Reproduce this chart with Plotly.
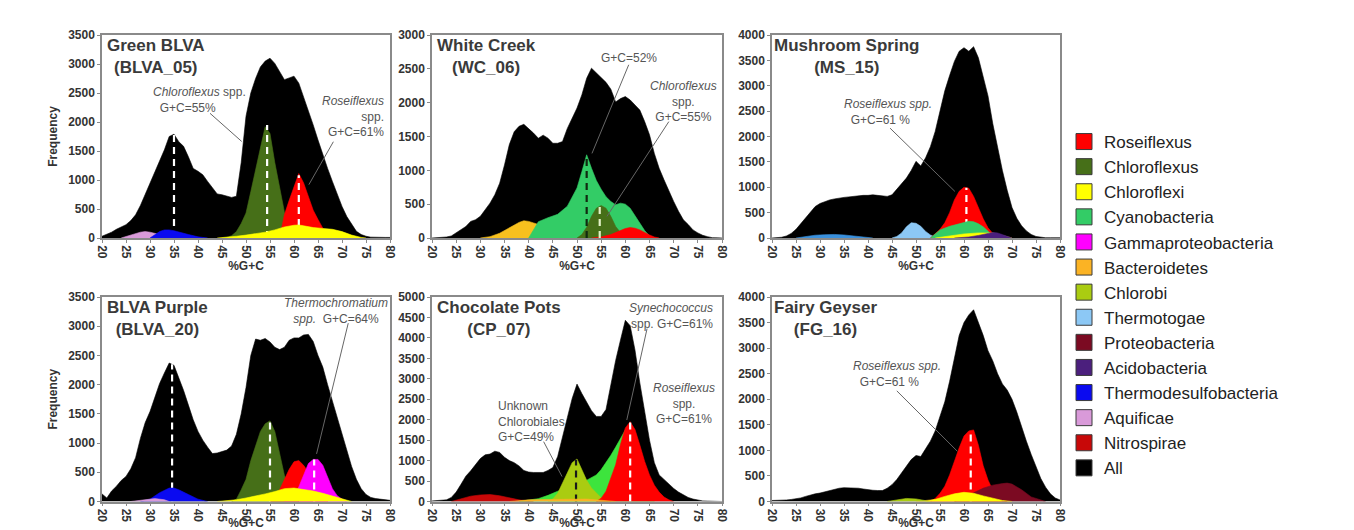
import plotly.graph_objects as go

# ---------------- data ----------------
X_ALL = list(range(20, 81))
X_TICKS = list(range(20, 81, 5))

LEGEND_TAXA = ["Roseiflexus", "Chloroflexus", "Chloroflexi", "Cyanobacteria",
               "Gammaproteobacteria", "Bacteroidetes", "Chlorobi", "Thermotogae",
               "Proteobacteria", "Acidobacteria", "Thermodesulfobacteria",
               "Aquificae", "Nitrospirae", "All"]

# Green BLVA (BLVA_05)
GB_ALL = [30, 60, 100, 150, 190, 230, 300, 400, 560, 750, 950, 1150, 1340, 1520, 1750,
          1790, 1660, 1580, 1400, 1200, 1150, 1090, 975, 860, 760, 745, 720, 700, 720,
          1300, 2100, 2500, 2750, 2950, 3050, 3100, 3010, 2870, 2730, 2760, 2790, 2670,
          2440, 2180, 1950, 1690, 1430, 1200, 975, 750, 545, 370, 230, 115, 60, 30, 15,
          10, 10, 10, 10]
GB_CFX_X = [45, 46, 47, 48, 49, 50, 51, 52, 53, 54, 55, 56, 57, 58, 59, 60, 61]
GB_CFX_Y = [0, 10, 40, 110, 250, 430, 800, 1200, 1550, 1920, 1800, 1300, 850, 450, 200, 70, 0]
GB_ROS_X = [57, 58, 59, 60, 61, 62, 63, 64, 65, 66, 67, 68]
GB_ROS_Y = [0, 400, 650, 900, 1110, 950, 700, 480, 320, 170, 50, 0]
GB_CFI_X = [44, 46, 48, 50, 52, 54, 56, 58, 60, 61, 62, 64, 66, 68, 70, 72, 74, 75]
GB_CFI_Y = [0, 10, 30, 50, 70, 100, 140, 190, 220, 225, 210, 180, 165, 150, 110, 50, 10, 0]
GB_AQU_X = [24, 26, 28, 29, 30, 32, 33]
GB_AQU_Y = [0, 50, 100, 110, 100, 60, 0]
GB_TDS_X = [30, 31, 32, 33, 34, 35, 36, 38, 40, 42]
GB_TDS_Y = [0, 60, 110, 140, 140, 125, 100, 60, 20, 0]
GB_PEAK_X = [35, 54.4, 61]
GB_PEAK_Y = [1790, 1950, 1080]

# White Creek (WC_06)
WC_ALL = [0, 2, 5, 15, 30, 75, 120, 170, 245, 270, 320, 420, 515, 640, 810, 1080, 1380,
          1570, 1650, 1680, 1620, 1550, 1475, 1520, 1475, 1400, 1400, 1425, 1620, 1770,
          1920, 2115, 2360, 2510, 2440, 2380, 2300, 2200, 2010, 2060, 2090, 2040, 1970,
          1890, 1720, 1525, 1250, 1030, 860, 690, 540, 395, 270, 200, 120, 75, 40, 20, 5,
          2, 0]
WC_BAC_X = [30, 32, 34, 36, 38, 39, 40, 42, 44, 46, 48, 50]
WC_BAC_Y = [0, 20, 70, 150, 230, 255, 245, 200, 150, 100, 50, 0]
WC_CYA_X = [40, 42, 44, 46, 48, 49, 50, 51, 52, 53, 54, 55, 56, 57, 58, 59, 60, 61, 62, 63,
            64, 65, 66]
WC_CYA_Y = [0, 240, 300, 350, 470, 600, 740, 980, 1230, 1030, 850, 720, 610, 540, 490, 515,
            500, 440, 330, 200, 110, 30, 0]
WC_CFX_X = [50, 51, 52, 53, 54, 55, 56, 57, 58, 59, 60, 61]
WC_CFX_Y = [0, 50, 160, 320, 440, 480, 440, 320, 170, 80, 30, 0]
WC_ROS_X = [53, 55, 57, 59, 60, 61, 62, 63, 64, 65, 66, 67]
WC_ROS_Y = [0, 15, 50, 110, 140, 155, 145, 120, 80, 45, 15, 0]
WC_PEAK_X = [52, 54.7]
WC_PEAK_Y = [1230, 480]

# Mushroom Spring (MS_15)
MS_ALL = [0, 5, 15, 40, 90, 170, 280, 400, 520, 620, 680, 720, 750, 770, 790, 800, 810,
          820, 840, 840, 840, 850, 840, 830, 820, 850, 960, 1050, 1180, 1330, 1510, 1420,
          1580, 1800, 2100, 2500, 2900, 3200, 3480, 3680, 3750, 3680, 3770, 3550, 3200,
          2800, 2250, 1780, 1330, 940, 600, 390, 240, 140, 70, 30, 10, 5, 5, 5, 5]
MS_THB_X = [25, 27, 29, 31, 33, 35, 37, 39, 41]
MS_THB_Y = [0, 30, 55, 65, 70, 60, 45, 20, 0]
MS_THE_X = [45, 46, 47, 48, 49, 50, 51, 52, 53, 54, 55]
MS_THE_Y = [0, 30, 100, 220, 300, 290, 230, 130, 60, 20, 0]
MS_ROS_X = [53, 54, 55, 56, 57, 58, 59, 60, 61, 62, 63, 64, 65, 66, 67, 68]
MS_ROS_Y = [0, 80, 170, 300, 500, 750, 920, 1000, 980, 820, 600, 380, 200, 90, 30, 0]
MS_CYA_X = [53, 55, 57, 59, 60, 61, 62, 63, 64, 65, 66, 67]
MS_CYA_Y = [0, 160, 230, 280, 300, 330, 320, 280, 220, 130, 50, 0]
MS_CFI_X = [54, 57, 60, 63, 66, 68, 70]
MS_CFI_Y = [0, 40, 80, 100, 100, 50, 0]
MS_ACI_X = [58, 61, 63, 65, 66, 67, 68, 69, 70]
MS_ACI_Y = [0, 20, 50, 90, 110, 100, 70, 30, 0]
MS_PEAK_X = [60.5]
MS_PEAK_Y = [990]

# BLVA Purple (BLVA_20)
BP_ALL = [130, 60, 180, 260, 360, 430, 560, 750, 1080, 1350, 1540, 1780, 2020, 2200, 2370,
          2330, 2130, 1900, 1650, 1400, 1200, 1050, 930, 820, 830, 860, 880, 950, 1150,
          1500, 1950, 2500, 2780, 2760, 2790, 2730, 2640, 2600, 2640, 2760, 2800, 2800,
          2850, 2860, 2740, 2500, 2300, 2000, 1720, 1450, 1150, 870, 600, 380, 220, 120,
          70, 50, 40, 30, 20]
BP_CFX_X = [47, 48, 49, 50, 51, 52, 53, 54, 55, 56, 57, 58, 59, 60, 61]
BP_CFX_Y = [0, 40, 200, 380, 700, 950, 1200, 1330, 1380, 1200, 850, 450, 250, 80, 0]
BP_ROS_X = [55, 56, 57, 58, 59, 60, 61, 62, 63, 64, 65, 66, 67]
BP_ROS_Y = [0, 80, 200, 380, 550, 680, 700, 620, 500, 350, 200, 80, 0]
BP_GAM_X = [58, 60, 61, 62, 63, 64, 65, 66, 67, 68, 69, 70, 71]
BP_GAM_Y = [0, 100, 250, 450, 650, 720, 720, 620, 420, 220, 100, 40, 0]
BP_CFI_X = [44, 46, 48, 50, 52, 54, 56, 58, 60, 62, 64, 66, 68, 70, 72]
BP_CFI_Y = [0, 10, 30, 60, 90, 130, 170, 220, 230, 210, 180, 140, 90, 40, 0]
BP_TDS_X = [28, 30, 32, 34, 35, 36, 38, 40, 42]
BP_TDS_Y = [0, 40, 150, 230, 230, 200, 120, 40, 0]
BP_AQU_X = [26, 29, 31, 33, 34]
BP_AQU_Y = [0, 30, 50, 30, 0]
BP_PEAK_X = [34.6, 55, 64.2]
BP_PEAK_Y = [2350, 1380, 720]

# Chocolate Pots (CP_07)
CP_ALL = [15, 20, 30, 40, 100, 230, 420, 620, 750, 900, 1050, 1140, 1160, 1230, 1200, 1080,
          1000, 950, 870, 760, 720, 710, 710, 710, 760, 830, 1100, 1600, 2050, 2520, 2870,
          2640, 2430, 2220, 2080, 2080, 2250, 2850, 3450, 3950, 4430, 4300, 3700, 2900,
          2200, 1500, 950, 650, 540, 420, 320, 230, 160, 100, 60, 30, 15, 10, 5, 5, 0]
CP_NIT_X = [24, 26, 28, 30, 32, 34, 36, 38, 40, 41]
CP_NIT_Y = [0, 60, 130, 160, 170, 140, 90, 40, 10, 0]
CP_CYA_X = [38, 40, 42, 44, 46, 48, 50, 52, 54, 55, 56, 57, 58, 59, 60, 61, 62, 63, 64, 65,
            66]
CP_CYA_Y = [0, 30, 70, 150, 250, 330, 400, 520, 650, 780, 950, 1130, 1330, 1550, 1750,
            1850, 1500, 900, 400, 150, 0]
CP_CHB_X = [44, 45, 46, 47, 48, 49, 50, 51, 52, 53, 54, 55, 56, 57]
CP_CHB_Y = [0, 60, 200, 450, 720, 950, 1040, 800, 520, 330, 200, 90, 20, 0]
CP_ROS_X = [54, 55, 56, 57, 58, 59, 60, 61, 62, 63, 64, 65, 66, 67, 68, 69, 70]
CP_ROS_Y = [0, 80, 250, 550, 900, 1400, 1800, 1950, 1760, 1380, 980, 650, 400, 230, 110,
            40, 0]
CP_BAC_X = [36, 40, 44, 48, 52, 56, 58]
CP_BAC_Y = [0, 40, 50, 50, 60, 20, 0]
CP_PEAK_X = [49.8, 61]
CP_PEAK_Y = [1020, 1950]

# Fairy Geyser (FG_16)
FG_ALL = [20, 20, 25, 30, 40, 55, 70, 100, 130, 150, 165, 190, 215, 240, 260, 270, 265, 270,
          260, 245, 230, 220, 215, 215, 260, 330, 430, 560, 680, 820, 900, 880, 1030, 1180,
          1380, 1670, 1950, 2350, 2820, 3250, 3500, 3650, 3750, 3500, 3250, 2950, 2750,
          2500, 2300, 2180, 2000, 1750, 1450, 1180, 920, 680, 450, 280, 150, 70, 30]
FG_ROS_X = [53, 54, 55, 56, 57, 58, 59, 60, 61, 62, 63, 64, 65, 66, 67, 68, 69]
FG_ROS_Y = [0, 60, 160, 300, 520, 800, 1050, 1280, 1380, 1400, 1100, 700, 420, 220, 100, 30,
            0]
FG_PRO_X = [58, 60, 62, 64, 66, 68, 69, 70, 72, 74, 76, 77]
FG_PRO_Y = [0, 80, 170, 260, 320, 350, 360, 340, 230, 90, 20, 0]
FG_BAC_X = [50, 54, 58, 62, 66, 68]
FG_BAC_Y = [0, 40, 60, 60, 30, 0]
FG_CFI_X = [52, 54, 56, 58, 60, 62, 64, 66, 68, 70]
FG_CFI_Y = [0, 40, 100, 150, 180, 160, 110, 60, 20, 0]
FG_CHB_X = [44, 46, 48, 50, 52, 53]
FG_CHB_Y = [0, 30, 60, 50, 10, 0]
FG_PEAK_X = [61.4]
FG_PEAK_Y = [1390]

# ---------------- styles ----------------
COLORS = {
    "Roseiflexus": "#ff0000", "Chloroflexus": "#466f18", "Chloroflexi": "#ffff00",
    "Cyanobacteria": "#33cc66", "Gammaproteobacteria": "#ff00ff",
    "Bacteroidetes": "#fbb324", "Chlorobi": "#aacc11", "Thermotogae": "#8cc8f5",
    "Proteobacteria": "#7b0a22", "Acidobacteria": "#4b1f7d",
    "Thermodesulfobacteria": "#0a0af0", "Aquificae": "#d99ad9",
    "Nitrospirae": "#c80808", "All": "#000000",
}
FONT = "Liberation Sans, Arial, sans-serif"
TXT_GRAY = "#555555"
LEADER_GRAY = "#666666"

W, H = 1354, 530
COL_PX = [(102, 390), (432, 722), (772, 1060)]
ROW_PX = [(35, 238), (297, 501.5)]

panels = [
    dict(title="Green BLVA<br>(BLVA_05)", ymax=3500, col=0, row=0,
         layers=[(X_ALL, GB_ALL, COLORS["All"]),
                 (GB_CFX_X, GB_CFX_Y, COLORS["Chloroflexus"]),
                 (GB_ROS_X, GB_ROS_Y, COLORS["Roseiflexus"]),
                 "DASH",
                 (GB_CFI_X, GB_CFI_Y, COLORS["Chloroflexi"]),
                 (GB_AQU_X, GB_AQU_Y, COLORS["Aquificae"]),
                 (GB_TDS_X, GB_TDS_Y, COLORS["Thermodesulfobacteria"])],
         peaks=(GB_PEAK_X, GB_PEAK_Y, ["white", "white", "white"]),
         notes=[("<i>Chloroflexus</i> spp.<br>  G+C=55%", 30.2, 2380, "left", "left"),
                ("<i>Roseiflexus</i><br>spp.<br>G+C=61%", 79.2, 2090, "right", "right")],
         leaders=[((42.5, 2150), (49.1, 1665)), ((68.2, 1660), (63.1, 920))],
         tdx=0.01),
    dict(title="White Creek<br>(WC_06)", ymax=3000, col=1, row=0,
         layers=[(X_ALL, WC_ALL, COLORS["All"]),
                 (WC_BAC_X, WC_BAC_Y, "#f7c01e"),
                 (WC_CYA_X, WC_CYA_Y, COLORS["Cyanobacteria"]),
                 (WC_CFX_X, WC_CFX_Y, COLORS["Chloroflexus"]),
                 (WC_ROS_X, WC_ROS_Y, COLORS["Roseiflexus"]),
                 "DASH"],
         peaks=(WC_PEAK_X, WC_PEAK_Y, ["#102a10", "#e4f2c8"]),
         notes=[("G+C=52%", 60.7, 2656, "center", "center"),
                ("<i>Chloroflexus</i><br>spp.<br>G+C=55%", 72.1, 2017, "center", "center")],
         leaders=[((60.7, 2560), (53.1, 1250)), ((69.0, 1720), (56.2, 320))],
         tdx=0.01),
    dict(title="Mushroom Spring<br>(MS_15)", ymax=4000, col=2, row=0,
         layers=[(X_ALL, MS_ALL, COLORS["All"]),
                 (MS_THB_X, MS_THB_Y, "#3a90dc"),
                 (MS_THE_X, MS_THE_Y, COLORS["Thermotogae"]),
                 (MS_ROS_X, MS_ROS_Y, COLORS["Roseiflexus"]),
                 "DASH",
                 (MS_CYA_X, MS_CYA_Y, COLORS["Cyanobacteria"]),
                 (MS_CFI_X, MS_CFI_Y, COLORS["Chloroflexi"]),
                 (MS_ACI_X, MS_ACI_Y, COLORS["Acidobacteria"])],
         peaks=(MS_PEAK_X, MS_PEAK_Y, ["white"]),
         notes=[("<i>Roseiflexus spp.</i><br>  G+C=61 %", 34.6, 2480, "left", "left")],
         leaders=[((44.6, 2164), (58.1, 918))],
         tdx=0.0),
    dict(title="BLVA Purple<br>(BLVA_20)", ymax=3500, col=0, row=1,
         layers=[(X_ALL, BP_ALL, COLORS["All"]),
                 (BP_CFX_X, BP_CFX_Y, COLORS["Chloroflexus"]),
                 (BP_ROS_X, BP_ROS_Y, COLORS["Roseiflexus"]),
                 (BP_GAM_X, BP_GAM_Y, COLORS["Gammaproteobacteria"]),
                 "DASH",
                 (BP_CFI_X, BP_CFI_Y, COLORS["Chloroflexi"]),
                 (BP_TDS_X, BP_TDS_Y, COLORS["Thermodesulfobacteria"]),
                 (BP_AQU_X, BP_AQU_Y, COLORS["Aquificae"])],
         peaks=(BP_PEAK_X, BP_PEAK_Y, ["white", "white", "white"]),
         notes=[("<i>Thermochromatium</i><br><i>spp.</i>  G+C=64%", 68.8, 3253,
                 "center", "center")],
         leaders=[((71.3, 3052), (64.7, 815))],
         tdx=0.01),
    dict(title="Chocolate Pots<br>(CP_07)", ymax=5000, col=1, row=1,
         layers=[(X_ALL, CP_ALL, COLORS["All"]),
                 (CP_NIT_X, CP_NIT_Y, COLORS["Nitrospirae"]),
                 (CP_CYA_X, CP_CYA_Y, "#3de43d"),
                 (CP_CHB_X, CP_CHB_Y, COLORS["Chlorobi"]),
                 (CP_ROS_X, CP_ROS_Y, COLORS["Roseiflexus"]),
                 "DASH",
                 (CP_BAC_X, CP_BAC_Y, COLORS["Bacteroidetes"])],
         peaks=(CP_PEAK_X, CP_PEAK_Y, ["#1a1a1a", "white"]),
         notes=[("Unknown<br>Chlorobiales<br>G+C=49%", 33.2, 1950, "left", "left"),
                ("<i>Synechococcus</i><br>spp. G+C=61%", 78.6, 4528, "right", "right"),
                ("<i>Roseiflexus</i><br>spp.<br>G+C=61%", 72.1, 2398, "center", "center")],
         leaders=[((43.1, 1463), (46.9, 610)), ((64.5, 4228), (60.3, 1992))],
         tdx=0.01),
    dict(title="Fairy Geyser<br>(FG_16)", ymax=4000, col=2, row=1,
         layers=[(X_ALL, FG_ALL, COLORS["All"]),
                 (FG_ROS_X, FG_ROS_Y, COLORS["Roseiflexus"]),
                 (FG_PRO_X, FG_PRO_Y, COLORS["Proteobacteria"]),
                 "DASH",
                 (FG_BAC_X, FG_BAC_Y, COLORS["Bacteroidetes"]),
                 (FG_CFI_X, FG_CFI_Y, COLORS["Chloroflexi"]),
                 (FG_CHB_X, FG_CHB_Y, COLORS["Chlorobi"])],
         peaks=(FG_PEAK_X, FG_PEAK_Y, ["white"]),
         notes=[("<i>Roseiflexus spp.</i><br>  G+C=61 %", 36.5, 2492, "left", "left")],
         leaders=[((46.0, 2164), (58.6, 984))],
         tdx=0.0),
]

fig = go.Figure()
annotations = []
layout_axes = {}

for i, p in enumerate(panels, start=1):
    xa = "x" if i == 1 else f"x{i}"
    ya = "y" if i == 1 else f"y{i}"
    for layer in p["layers"]:
        if layer == "DASH":
            px_, py_, pc = p["peaks"]
            for xv, yv, c in zip(px_, py_, pc):
                fig.add_trace(go.Scatter(x=[xv, xv], y=[0, yv], mode="lines",
                                         line=dict(color=c, width=2.2, dash="7px,5px"),
                                         showlegend=False, hoverinfo="skip",
                                         xaxis=xa, yaxis=ya))
            continue
        lx, ly, col = layer
        fig.add_trace(go.Scatter(x=lx, y=ly, mode="lines", fill="tozeroy",
                                 fillcolor=col, line=dict(color=col, width=0.6),
                                 showlegend=False, hoverinfo="skip",
                                 xaxis=xa, yaxis=ya))
    for (a, b) in p["leaders"]:
        fig.add_trace(go.Scatter(x=[a[0], b[0]], y=[a[1], b[1]], mode="lines",
                                 line=dict(color=LEADER_GRAY, width=1),
                                 showlegend=False, hoverinfo="skip",
                                 xaxis=xa, yaxis=ya))
    for (txt, nx, ny, align, xanchor) in p["notes"]:
        annotations.append(dict(text=txt, x=nx, y=ny, xref=xa, yref=ya,
                                showarrow=False, align=align, xanchor=xanchor,
                                yanchor="middle",
                                font=dict(family=FONT, size=12, color=TXT_GRAY)))
    annotations.append(dict(text=p["title"], x=p["tdx"], y=1.0,
                            xref=f"{xa} domain", yref=f"{ya} domain",
                            showarrow=False, align="center", xanchor="left",
                            yanchor="top", yshift=1,
                            font=dict(family=FONT, size=17, color="#3a3a3a",
                                      weight="bold")))
    c0, c1 = COL_PX[p["col"]]
    r0, r1 = ROW_PX[p["row"]]
    axis_common = dict(showline=True, mirror=True, linecolor="#8a8a8a", linewidth=1.5,
                       ticks="outside", ticklen=3, tickcolor="#8a8a8a",
                       showgrid=False, zeroline=False, automargin=False,
                       tickfont=dict(family=FONT, size=12, color="#333333",
                                     weight="bold"))
    layout_axes["xaxis" if i == 1 else f"xaxis{i}"] = dict(
        axis_common, domain=[c0 / W, c1 / W], range=[20, 80], tickvals=X_TICKS,
        tickangle=90, anchor=ya,
        title=dict(text="%G+C", standoff=0,
                   font=dict(family=FONT, size=12, color="#333333", weight="bold")))
    ytitle = "Frequency" if p["col"] == 0 else ""
    layout_axes["yaxis" if i == 1 else f"yaxis{i}"] = dict(
        axis_common, domain=[1 - r1 / H, 1 - r0 / H], range=[0, p["ymax"]], dtick=500,
        anchor=xa,
        title=dict(text=ytitle, standoff=8,
                   font=dict(family=FONT, size=12, color="#333333", weight="bold")))

# legend entries
for name in LEGEND_TAXA:
    fig.add_trace(go.Scatter(x=[None], y=[None], mode="markers", name=name,
                             marker=dict(symbol="square", size=16, color=COLORS[name],
                                         line=dict(color="#3a3a3a", width=1)),
                             showlegend=True, xaxis="x", yaxis="y"))

fig.update_layout(
    width=W, height=H,
    margin=dict(l=0, r=0, t=0, b=0, autoexpand=False),
    paper_bgcolor="white", plot_bgcolor="white",
    annotations=annotations,
    showlegend=True,
    legend=dict(x=1064 / W, y=1 - 124 / H, xanchor="left", yanchor="top",
                font=dict(family=FONT, size=17, color="#222222"),
                bgcolor="rgba(0,0,0,0)", traceorder="normal", tracegroupgap=0,
                itemclick=False, itemdoubleclick=False),
    **layout_axes,
)

fig.write_html("out.html")
